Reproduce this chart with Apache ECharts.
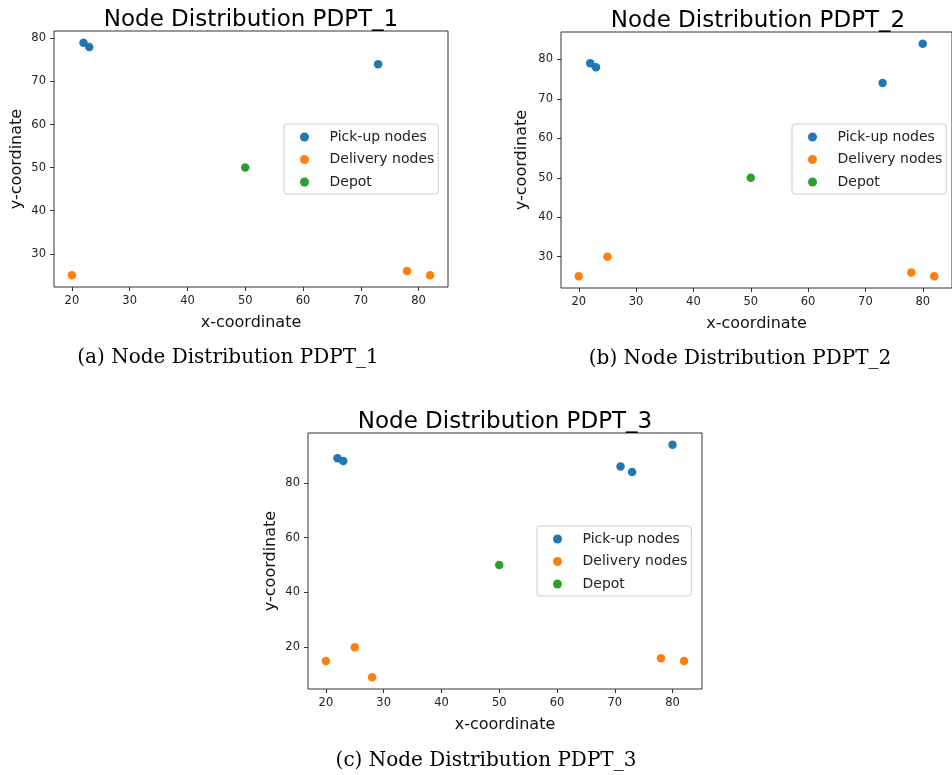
<!DOCTYPE html>
<html lang="en">
<head>
    <meta charset="UTF-8">
    <title>Node Distribution PDPT</title>
    <script src="https://cdn.jsdelivr.net/npm/echarts@6/dist/echarts.min.js"></script>
    <style>
        html, body { margin: 0; padding: 0; background: #fff; }
        #mychart { width: 952px; height: 775px; }
    </style>
</head>
<body>
    <div id="mychart"></div>
</body>
<script>
    // data
    var pickup1 = [[22, 79], [23, 78], [73, 74]];
    var delivery1 = [[20, 25], [78, 26], [82, 25]];
    var depot1 = [[50, 50]];

    var pickup2 = [[22, 79], [23, 78], [73, 74], [80, 84]];
    var delivery2 = [[20, 25], [25, 30], [78, 26], [82, 25]];
    var depot2 = [[50, 50]];

    var pickup3 = [[22, 89], [23, 88], [71, 86], [73, 84], [80, 94]];
    var delivery3 = [[20, 15], [25, 20], [28, 9], [78, 16], [82, 15]];
    var depot3 = [[50, 50]];

    // tick labels
    var xTicks = [20, 30, 40, 50, 60, 70, 80];
    var yTicks1 = [30, 40, 50, 60, 70, 80];
    var yTicks2 = [30, 40, 50, 60, 70, 80];
    var yTicks3 = [20, 40, 60, 80];

    var names = ['Pick-up nodes', 'Delivery nodes', 'Depot'];
    var colors = ['#1f77b4', '#ff7f0e', '#2ca02c'];

    // matplotlib style 5% margins around the data
    function extent(sets, k) {
        var vals = [];
        sets.forEach(function (s) { s.forEach(function (p) { vals.push(p[k]); }); });
        var lo = Math.min.apply(null, vals), hi = Math.max.apply(null, vals);
        var m = (hi - lo) * 0.05;
        return [lo - m, hi + m];
    }

    var charts = [
        { sets: [pickup1, delivery1, depot1], yTicks: yTicks1, left: 54, top: 31, yGap: 29,
          title: 'Node Distribution PDPT_1', caption: '(a) Node Distribution PDPT_1', capX: 228, capY: 348,
          legendLeft: 284, legendTop: 124 },
        { sets: [pickup2, delivery2, depot2], yTicks: yTicks2, left: 561, top: 32, yGap: 31,
          title: 'Node Distribution PDPT_2', caption: '(b) Node Distribution PDPT_2', capX: 740, capY: 349,
          legendLeft: 792, legendTop: 124 },
        { sets: [pickup3, delivery3, depot3], yTicks: yTicks3, left: 308, top: 433, yGap: 29,
          title: 'Node Distribution PDPT_3', caption: '(c) Node Distribution PDPT_3', capX: 486, capY: 751,
          legendLeft: 537, legendTop: 526 }
    ];

    var W = 394, H = 256;
    var grid = [], xAxis = [], yAxis = [], series = [], title = [], legend = [];

    charts.forEach(function (c, i) {
        var xe = extent(c.sets, 0), ye = extent(c.sets, 1);
        grid.push({
            left: c.left, top: c.top, width: W, height: H,
            show: true, borderColor: '#333', borderWidth: 1, backgroundColor: '#fff'
        });
        var axisCommon = {
            nameLocation: 'middle',
            nameTextStyle: { fontFamily: 'DejaVu Sans', fontSize: 16, color: '#111' },
            axisLine: { show: false },
            axisTick: { show: true, length: 4, lineStyle: { color: '#333' } },
            axisLabel: { fontFamily: 'DejaVu Sans', fontSize: 11.5, color: '#222' },
            splitLine: { show: false }
        };
        xAxis.push(Object.assign({}, axisCommon, {
            gridIndex: i, type: 'value', min: xe[0], max: xe[1],
            name: 'x-coordinate', nameGap: 28,
            axisTick: Object.assign({}, axisCommon.axisTick, { customValues: xTicks }),
            axisLabel: Object.assign({}, axisCommon.axisLabel, { customValues: xTicks, margin: 8 })
        }));
        yAxis.push(Object.assign({}, axisCommon, {
            gridIndex: i, type: 'value', min: ye[0], max: ye[1],
            name: 'y-coordinate', nameGap: c.yGap,
            axisTick: Object.assign({}, axisCommon.axisTick, { customValues: c.yTicks }),
            axisLabel: Object.assign({}, axisCommon.axisLabel, { customValues: c.yTicks, margin: 8 })
        }));
        c.sets.forEach(function (d, k) {
            series.push({
                name: names[k], type: 'scatter', xAxisIndex: i, yAxisIndex: i,
                data: d, symbolSize: 8.5, itemStyle: { color: colors[k], opacity: 1 }
            });
        });
        title.push({
            text: c.title, left: c.left + W / 2, top: c.top - 22, textAlign: 'center', padding: 0,
            textStyle: { fontFamily: 'DejaVu Sans', fontSize: 23, fontWeight: 'normal', color: '#000' }
        });
        title.push({
            text: c.caption, left: c.capX, top: c.capY, textAlign: 'center', padding: 0,
            textStyle: { fontFamily: 'DejaVu Serif', fontSize: 20, fontWeight: 'normal', color: '#000' }
        });
        legend.push({
            data: names, orient: 'vertical', left: c.legendLeft, top: c.legendTop,
            icon: 'circle', itemWidth: 16, itemHeight: 9, itemGap: 6.5,
            padding: [5, 4, 4, 16],
            backgroundColor: 'rgba(255,255,255,0.8)', borderColor: '#ccc', borderWidth: 1, borderRadius: 3,
            selectedMode: false,
            textStyle: { fontFamily: 'DejaVu Sans', fontSize: 14, lineHeight: 16, color: '#222', padding: [0, 0, 0, 12] }
        });
    });

    var mychart = echarts.init(document.getElementById('mychart'));
    mychart.setOption({
        animation: false,
        backgroundColor: '#fff',
        title: title,
        legend: legend,
        grid: grid,
        xAxis: xAxis,
        yAxis: yAxis,
        series: series
    });
</script>
</html>
